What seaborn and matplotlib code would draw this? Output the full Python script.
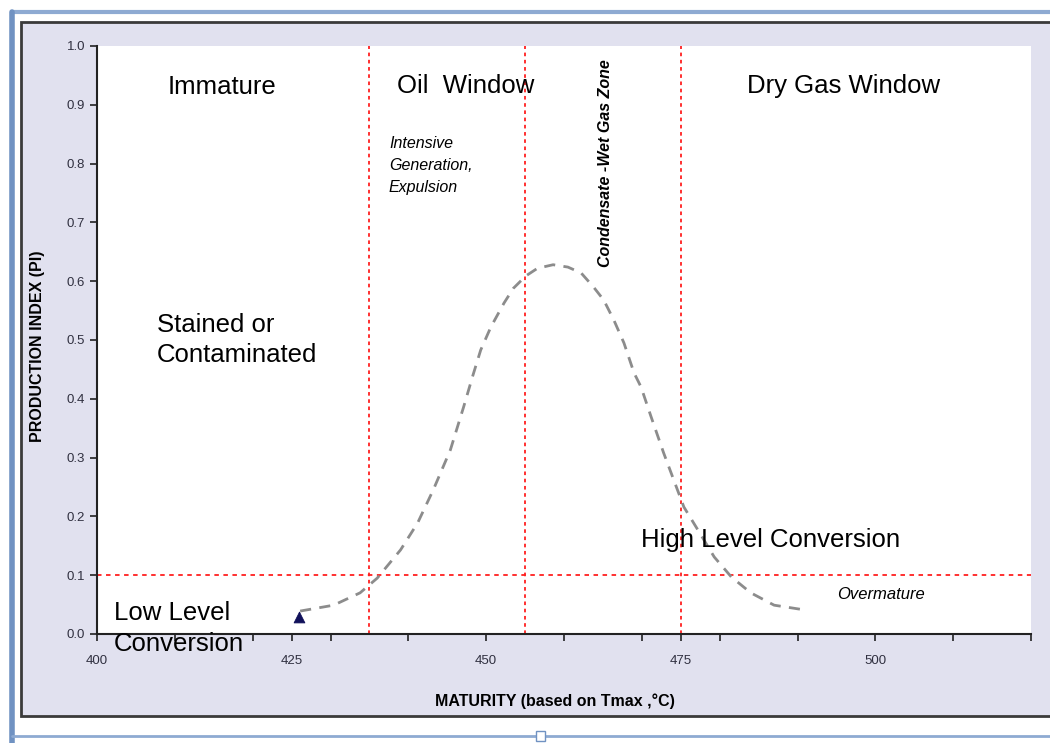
import numpy as np
import pandas as pd
import seaborn as sns
import matplotlib.pyplot as plt
from matplotlib.patches import Rectangle
from matplotlib.lines import Line2D

# Trend curve (Tmax in degC, production index)
curve_tmax = [426.1, 430.4, 433.8, 436.0, 439.0, 441.2, 443.2, 445.4, 447.1,
              448.3, 449.3, 450.6, 452.3, 453.5, 455.1, 456.6, 458.6, 460.5,
              462.2, 463.8, 465.1, 466.4, 467.7, 469.0, 469.9, 471.2, 472.8,
              474.1, 475.4, 477.2, 479.3, 481.5, 484.0, 487.0, 490.9]
curve_pi = [0.039, 0.049, 0.070, 0.095, 0.143, 0.189, 0.245, 0.313, 0.386,
            0.440, 0.483, 0.522, 0.563, 0.588, 0.609, 0.622, 0.628, 0.624,
            0.614, 0.590, 0.568, 0.534, 0.495, 0.444, 0.420, 0.369, 0.308,
            0.262, 0.216, 0.177, 0.131, 0.097, 0.070, 0.049, 0.041]

# The single sample
sample_tmax = [425.9]
sample_pi = [0.029]

# Zone boundaries
zone_tmax = [435, 455, 475]
pi_cutoff = 0.1

x_major = [400, 425, 450, 475, 500]
x_minor = [410, 420, 430, 440, 460, 470, 480, 490, 510, 520]
y_ticks = [0.0, 0.1, 0.2, 0.3, 0.4, 0.5, 0.6, 0.7, 0.8, 0.9, 1.0]

sns.set_style("ticks")
plt.rcParams['font.family'] = ['Liberation Sans', 'DejaVu Sans']
plt.rcParams['text.color'] = 'black'
plt.rcParams['axes.labelcolor'] = 'black'

W, H = 1050, 743
fig = plt.figure(figsize=(W / 100, H / 100), dpi=100, facecolor='white')


def fx(px):
    return px / W


def fy(py):
    return 1 - py / H


# window-like frame around the chart
fig.add_artist(Rectangle((fx(21), fy(716)), fx(1060) - fx(21), fy(22) - fy(716),
                         transform=fig.transFigure, facecolor='#e1e1ef',
                         edgecolor='#3a3a3a', linewidth=2, zorder=0))
fig.add_artist(Line2D([fx(12), fx(1050)], [fy(12), fy(12)], transform=fig.transFigure,
                      color='#8eaad2', linewidth=3, zorder=0))
fig.add_artist(Line2D([fx(12), fx(12)], [fy(12), fy(743)], transform=fig.transFigure,
                      color='#7092c2', linewidth=4, zorder=0))
fig.add_artist(Line2D([fx(12), fx(1050)], [fy(736), fy(736)], transform=fig.transFigure,
                      color='#8eaad2', linewidth=2, zorder=0))
fig.add_artist(Rectangle((fx(536), fy(741)), fx(9), fy(731) - fy(741),
                         transform=fig.transFigure, facecolor='white',
                         edgecolor='#7092c2', linewidth=1, zorder=1))

ax = fig.add_axes([fx(97), fy(634), fx(1031) - fx(97), fy(46) - fy(634)])
ax.set_facecolor('white')

df_curve = pd.DataFrame({'tmax': curve_tmax, 'pi': curve_pi})
sns.lineplot(data=df_curve, x='tmax', y='pi', sort=False, ax=ax, color='#8c8c8c',
             linewidth=2, linestyle=(0, (4, 3)), zorder=3)
sns.scatterplot(x=sample_tmax, y=sample_pi, ax=ax, marker='^', s=60,
                color='#10105a', edgecolor='#10105a', zorder=4)

for t in zone_tmax:
    ax.axvline(t, color='#ff2020', linewidth=1.3, linestyle=(0, (2, 2)), zorder=2)
ax.axhline(pi_cutoff, color='#ff2020', linewidth=1.3, linestyle=(0, (2.5, 2.5)), zorder=2)

ax.set_xlim(400, 520)
ax.set_ylim(0, 1.0)
ax.set_xticks(x_major)
ax.set_xticks(x_minor, minor=True)
ax.set_yticks(y_ticks)
ax.set_yticklabels([f'{v:.1f}' for v in y_ticks])
ax.tick_params(axis='both', which='both', direction='out', length=5, width=1.2,
               color='#222222', labelsize=9.5, labelcolor='#303040')
ax.tick_params(axis='x', pad=10)
sns.despine(ax=ax)
for side in ['left', 'bottom']:
    ax.spines[side].set_color('#222222')
    ax.spines[side].set_linewidth(1.5)

ax.set_xlabel('MATURITY (based on Tmax ,°C)', fontsize=11.5, fontweight='bold')
ax.set_ylabel('PRODUCTION INDEX (PI)', fontsize=11.5, fontweight='bold')
ax.xaxis.set_label_coords(0.49, -0.101)
ax.yaxis.set_label_coords(-0.056, 0.49)

big = 18.5
ax.text(416.1, 0.931, 'Immature', fontsize=big, ha='center', va='center')
ax.text(447.4, 0.932, 'Oil  Window', fontsize=big, ha='center', va='center')
ax.text(495.9, 0.932, 'Dry Gas Window', fontsize=big, ha='center', va='center')
ax.text(407.7, 0.50, 'Stained or\nContaminated', fontsize=big, ha='left', va='center',
        linespacing=1.35)
ax.text(469.9, 0.16, 'High Level Conversion', fontsize=big, ha='left', va='center')
ax.text(402.2, 0.009, 'Low Level\nConversion', fontsize=big, ha='left', va='center',
        linespacing=1.35, clip_on=False, zorder=6)
ax.text(437.5, 0.797, 'Intensive\nGeneration,\nExpulsion', fontsize=11.5,
        style='italic', ha='left', va='center', linespacing=1.6)
ax.text(495.1, 0.068, 'Overmature', fontsize=12, style='italic', ha='left', va='center')
ax.text(465.3, 0.80, 'Condensate -Wet Gas Zone', fontsize=11.5, style='italic',
        fontweight='bold', rotation=90, ha='center', va='center')

fig.savefig('out.png', dpi=100, facecolor=fig.get_facecolor())
